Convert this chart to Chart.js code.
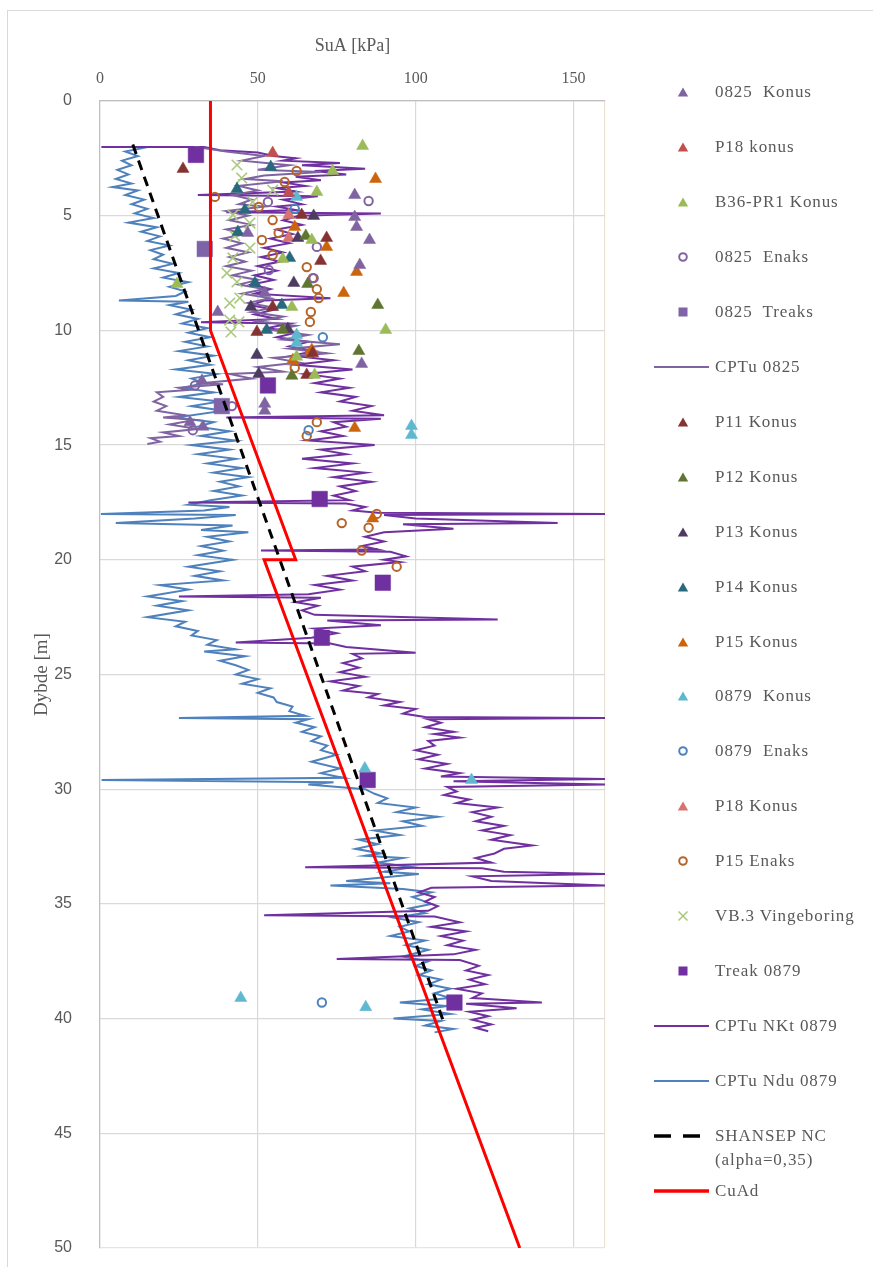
<!DOCTYPE html>
<html><head><meta charset="utf-8">
<script src="https://cdn.jsdelivr.net/npm/chart.js@4.4.0/dist/chart.umd.min.js"></script>
<style>
html,body{margin:0;padding:0;background:#fff;overflow:hidden;width:873px;height:1267px;}
#frame{position:absolute;left:7px;top:10px;width:900px;height:1300px;border:1px solid #d9d9d9;box-sizing:border-box;}
#wrap{position:absolute;left:0;top:0;width:873px;height:1267px;}
#legend{position:absolute;left:0;top:0;width:873px;height:1267px;}
.row{position:absolute;left:652px;display:flex;align-items:flex-start;font-family:'Liberation Serif','Times New Roman',serif;font-size:17px;color:#595959;letter-spacing:0.9px;white-space:pre;line-height:24px;}
.row svg{flex:none;}
.row span{margin-left:3px;}
</style></head><body>
<div id="frame"></div>
<div id="wrap"><canvas id="c" width="873" height="1267"></canvas></div>
<div id="legend"></div>
<script>
// ---- axis ticks ----
const xGridValues = [0, 50, 100, 150, 160];
const xTickLabels = ['0', '50', '100', '150', ''];
const yTickValues = [0, 5, 10, 15, 20, 25, 30, 35, 40, 45, 50];
const yTickLabels = ['0', '5', '10', '15', '20', '25', '30', '35', '40', '45', '50'];

// ---- point series [SuA kPa, depth m] ----
const konus0825 = [[80.7,4.1],[80.7,5.06],[81.3,5.49],[85.4,6.06],[82.3,7.15],[46.8,5.75],[37.3,9.2],[52.2,8.37],[82.9,11.46],[32.3,12.2],[28.5,14.0],[32.6,14.2],[52.2,13.2],[52.2,13.5]];
const p18konusA = [[54.7,2.27],[59.8,4.0]];
const b36Konus = [[83.2,1.96],[73.7,3.05],[68.7,3.97],[67.1,6.06],[57.9,6.89],[24.4,7.98],[60.8,8.98],[90.5,9.98],[62.3,11.15],[68.0,11.94]];
const enaks0825 = [[85.1,4.36],[53.2,4.4],[68.7,6.36],[53.5,7.37],[67.7,7.72],[30.1,12.4],[29.4,14.35],[41.8,13.3]];
const treaks0825 = [[33.2,6.45],[38.6,13.3]];
const p11Konus = [[26.3,2.96],[63.9,4.97],[71.8,5.97],[69.9,6.97],[54.7,8.98],[49.7,10.07],[67.4,11.0],[65.5,11.94]];
const p12Konus = [[65.2,5.88],[65.8,7.98],[88.0,8.89],[57.9,9.98],[82.0,10.9],[60.8,11.98]];
const p13Konus = [[67.7,5.01],[62.7,5.97],[61.4,7.93],[47.8,8.98],[59.5,9.94],[49.7,11.07],[50.3,11.9]];
const p14Konus = [[54.1,2.88],[43.4,3.84],[45.9,4.75],[43.7,5.71],[60.1,6.84],[49.1,7.93],[57.6,8.89],[52.8,9.98]];
const p15Konus = [[87.3,3.4],[61.7,5.49],[71.8,6.36],[81.3,7.45],[77.2,8.37],[67.1,10.85],[61.1,11.3],[80.7,14.25],[86.4,18.2]];
const konus0879 = [[62.3,4.18],[62.3,10.2],[62.3,10.55],[98.7,14.17],[98.7,14.56],[83.9,29.1],[117.7,29.6],[44.6,39.1],[84.2,39.5]];
const enaks0879 = [[61.7,4.7],[70.6,10.3],[66.1,14.35],[70.3,39.3]];
const p18KonusB = [[59.8,4.97],[59.8,5.97]];
const enaksP15 = [[36.4,4.18],[62.3,3.05],[58.5,3.53],[50.3,4.62],[54.7,5.19],[56.6,5.75],[51.3,6.06],[54.7,6.71],[65.5,7.24],[67.4,7.72],[68.7,8.2],[69.3,8.59],[66.8,9.2],[66.5,9.63],[66.5,10.99],[61.7,11.64],[68.7,14.0],[65.5,14.6],[76.6,18.4],[87.7,18.0],[85.1,18.6],[82.9,19.6],[94.0,20.3]];
const vb3 = [[43.4,2.79],[44.9,3.36],[54.7,3.88],[48.4,4.4],[42.1,4.97],[47.5,5.32],[42.7,5.88],[47.5,6.41],[42.1,6.84],[40.2,7.5],[43.4,7.89],[44.3,8.59],[41.1,8.81],[41.1,9.55],[44.0,9.63],[41.5,10.07]];
const treak0879 = [[30.4,2.35],[53.2,12.4],[69.6,17.35],[89.6,21.0],[70.3,23.4],[84.8,29.6],[112.3,39.3]];

// ---- profile series [SuA kPa, depth m] ----
const cptu0825 = [[30,2.0],[40,2.2],[52,2.4],[45,2.6],[60,2.8],[50,3.0],[70,3.1],[52,3.25],[46,3.4],[58,3.5],[44,3.7],[50,3.9],[42,4.1],[48,4.3],[44,4.5],[52,4.6],[40,4.8],[47,5.0],[41,5.2],[48,5.4],[40,5.6],[46,5.8],[39,6.0],[45,6.2],[40,6.4],[47,6.6],[41,6.8],[46,7.0],[40,7.2],[48,7.4],[42,7.6],[50,7.8],[44,8.0],[52,8.2],[45,8.4],[54,8.6],[47,8.8],[55,9.0],[48,9.2],[58,9.4],[50,9.6],[62,9.8],[55,10.0],[66,10.2],[58,10.4],[76,10.6],[60,10.8],[72,11.0],[55,11.2],[63,11.4],[50,11.6],[58,11.8],[41,11.9],[48,12.1],[32,12.3],[39,12.35],[25,12.5],[28,12.6],[18,12.7],[20,12.9],[17,13.1],[21,13.3],[18,13.5],[27,13.7],[20,13.8],[30,13.9],[22,14.1],[31,14.3],[20,14.45],[25,14.6],[16,14.7],[19,14.85],[15,14.95]];
const cptuNkt0879 = [[0.5,2.0],[33,2.0],[38,2.15],[50,2.25],[55,2.4],[62,2.5],[58,2.6],[76,2.7],[64,2.8],[84,2.95],[68,3.05],[78,3.2],[62,3.3],[70,3.45],[58,3.55],[65,3.7],[56,3.8],[62,3.95],[31,4.1],[69,4.15],[58,4.3],[64,4.5],[56,4.6],[62,4.75],[40,4.85],[89,4.9],[63,5.0],[58,5.2],[64,5.4],[56,5.6],[61,5.8],[54,6.0],[60,6.2],[52,6.4],[58,6.6],[51,6.8],[57,7.0],[50,7.2],[56,7.4],[49,7.6],[55,7.8],[48,8.0],[54,8.2],[49,8.4],[73,8.6],[52,8.7],[48,8.9],[55,9.1],[49,9.3],[56,9.5],[32,9.65],[60,9.7],[53,9.9],[62,10.1],[56,10.3],[66,10.5],[60,10.7],[68,10.9],[61,11.1],[74,11.3],[62,11.5],[80,11.7],[65,11.9],[76,12.1],[68,12.3],[79,12.5],[70,12.7],[81,12.9],[76,13.1],[86,13.3],[80,13.5],[90,13.7],[40,13.8],[89,13.85],[74,14.0],[78,14.2],[70,14.4],[77,14.6],[66,14.8],[87,15.0],[70,15.2],[78,15.4],[64,15.6],[80,15.8],[68,16.0],[84,16.2],[74,16.4],[86,16.6],[76,16.8],[81,17.0],[74,17.2],[79,17.4],[28,17.5],[78,17.55],[84,17.7],[80,17.85],[88,17.95],[160,18.0],[90,18.05],[100,18.2],[145,18.4],[96,18.45],[112,18.65],[90,18.8],[84,19.0],[90,19.2],[83,19.4],[88,19.55],[51,19.6],[92,19.65],[97,19.85],[90,20.0],[95,20.1],[80,20.3],[84,20.5],[72,20.7],[80,20.9],[68,21.1],[76,21.3],[66,21.5],[25,21.6],[70,21.65],[62,21.85],[69,22.0],[64,22.2],[68,22.4],[126,22.6],[72,22.65],[89,22.85],[68,23.0],[75,23.2],[67,23.4],[43,23.6],[73,23.65],[78,23.8],[100,24.05],[80,24.1],[83,24.3],[77,24.5],[82,24.7],[76,24.9],[84,25.1],[73,25.3],[82,25.5],[77,25.7],[88,25.85],[85,26.0],[95,26.2],[90,26.35],[100,26.5],[96,26.7],[103,26.85],[160,26.9],[104,26.95],[108,27.1],[103,27.3],[112,27.5],[106,27.6],[114,27.75],[104,27.9],[106,28.1],[100,28.3],[107,28.5],[101,28.7],[110,28.9],[103,29.1],[114,29.3],[108,29.45],[160,29.55],[112,29.65],[160,29.8],[110,29.9],[113,30.1],[109,30.25],[117,30.45],[113,30.6],[126,30.8],[118,31.0],[124,31.2],[119,31.4],[128,31.6],[121,31.8],[130,32.0],[124,32.2],[137,32.45],[128,32.6],[125,32.8],[119,33.0],[124,33.2],[65,33.4],[121,33.45],[128,33.6],[160,33.7],[118,33.8],[124,34.0],[160,34.2],[105,34.3],[101,34.5],[106,34.7],[103,34.9],[107,35.1],[104,35.3],[52,35.5],[106,35.55],[114,35.8],[105,36.0],[116,36.2],[108,36.4],[115,36.6],[110,36.8],[119,37.0],[112,37.2],[75,37.4],[114,37.45],[120,37.7],[116,37.9],[123,38.1],[117,38.3],[122,38.5],[113,38.7],[121,38.9],[118,39.1],[140,39.3],[116,39.35],[132,39.55],[117,39.7],[123,39.9],[118,40.05],[124,40.25],[119,40.4],[123,40.55]];
const cptuNdu0879 = [[0.5,2.0],[15.5,2.0],[8,2.2],[12,2.4],[7,2.6],[10,2.8],[5.5,3.0],[9,3.2],[5,3.4],[10,3.6],[4,3.75],[12,3.9],[8,4.1],[14,4.3],[10,4.5],[15,4.7],[11,4.9],[17,5.1],[9,5.3],[18,5.5],[13,5.7],[19,5.9],[15,6.1],[22,6.3],[16,6.5],[20,6.7],[17,6.9],[23,7.1],[17,7.3],[25,7.5],[20,7.7],[28,7.9],[22,8.1],[27,8.3],[24,8.5],[6,8.7],[28,8.75],[22,8.9],[29,9.1],[24,9.3],[31,9.5],[26,9.7],[34,9.9],[28,10.1],[35,10.3],[27,10.5],[34,10.7],[25,10.9],[36,11.1],[28,11.3],[35,11.5],[24,11.7],[37,11.9],[29,12.1],[33,12.3],[26,12.5],[36,12.7],[25,12.9],[38,13.1],[29,13.3],[39,13.5],[24,13.8],[36,14.0],[31,14.2],[41,14.4],[32,14.6],[43,14.8],[29,15.0],[41,15.2],[31,15.4],[43,15.6],[34,15.8],[45,16.0],[36,16.2],[47,16.4],[38,16.6],[44,16.8],[36,17.0],[45,17.2],[35,17.4],[28,17.6],[41,17.7],[33,17.85],[0.3,18.0],[43,18.05],[30,18.2],[5,18.4],[42,18.5],[32,18.7],[47,18.8],[34,19.0],[41,19.2],[32,19.4],[39,19.6],[31,19.8],[42,20.0],[28,20.3],[38,20.5],[30,20.7],[39,20.9],[19,21.1],[28,21.3],[15,21.6],[26,21.8],[18,22.0],[28,22.2],[15,22.5],[27,22.7],[24,22.9],[31,23.1],[29,23.3],[37,23.5],[34,23.7],[43,23.9],[33,24.0],[46,24.2],[38,24.4],[43,24.6],[47,24.8],[43,25.0],[50,25.2],[45,25.4],[54,25.6],[50,25.8],[55,26.0],[56,26.2],[61,26.4],[60,26.6],[65,26.8],[25,26.9],[66,26.95],[62,27.1],[68,27.3],[64,27.5],[70,27.7],[67,27.9],[72,28.1],[70,28.3],[75,28.5],[67,28.8],[76,29.1],[70,29.3],[77,29.5],[0.5,29.6],[74,29.7],[66,29.8],[84,30.0],[87,30.2],[91,30.4],[88,30.6],[100,30.8],[94,31.0],[107,31.2],[96,31.4],[102,31.6],[87,31.8],[95,32.0],[82,32.2],[88,32.4],[81,32.6],[89,32.8],[84,32.9],[96,33.0],[88,33.2],[99,33.4],[90,33.6],[101,33.7],[78,34.0],[92,34.1],[73,34.2],[96,34.35],[105,34.5],[99,34.7],[105,35.0],[98,35.2],[103,35.4],[93,35.6],[101,35.8],[95,36.0],[98,36.2],[92,36.4],[103,36.6],[97,36.8],[104,37.0],[96,37.3],[104,37.5],[100,37.7],[105,37.9],[101,38.1],[108,38.3],[104,38.5],[111,38.7],[106,38.9],[111,39.1],[95,39.3],[110,39.45],[102,39.6],[111,39.8],[93,40.0],[108,40.1],[103,40.3],[112,40.45],[106,40.6]];
const shansepNC = [[10.4,1.9],[109,40.2]];
const cuAd = [[35,0],[35,10],[62,20],[52,20],[133,50]];

// ---- series definitions (legend order) ----
const series = [
  {label:'0825  Konus', data:konus0825, kind:'tri', color:'#8064A2'},
  {label:'P18 konus', data:p18konusA, kind:'tri', color:'#C0504D'},
  {label:'B36-PR1 Konus', data:b36Konus, kind:'tri', color:'#9BBB59'},
  {label:'0825  Enaks', data:enaks0825, kind:'circ', color:'#8064A2'},
  {label:'0825  Treaks', data:treaks0825, kind:'sq', color:'#7F63A8'},
  {label:'CPTu 0825', data:cptu0825, kind:'line', color:'#8064A2', width:2},
  {label:'P11 Konus', data:p11Konus, kind:'tri', color:'#843331'},
  {label:'P12 Konus', data:p12Konus, kind:'tri', color:'#5F7530'},
  {label:'P13 Konus', data:p13Konus, kind:'tri', color:'#4D3B62'},
  {label:'P14 Konus', data:p14Konus, kind:'tri', color:'#276A7C'},
  {label:'P15 Konus', data:p15Konus, kind:'tri', color:'#CC640E'},
  {label:'0879  Konus', data:konus0879, kind:'tri', color:'#5EB8D0'},
  {label:'0879  Enaks', data:enaks0879, kind:'circ', color:'#4F81BD'},
  {label:'P18 Konus', data:p18KonusB, kind:'tri', color:'#D9736F'},
  {label:'P15 Enaks', data:enaksP15, kind:'circ', color:'#B5652A'},
  {label:'VB.3 Vingeboring', data:vb3, kind:'x', color:'#A9C97C'},
  {label:'Treak 0879', data:treak0879, kind:'sq', color:'#7030A0'},
  {label:'CPTu NKt 0879', data:cptuNkt0879, kind:'line', color:'#7030A0', width:2},
  {label:'CPTu Ndu 0879', data:cptuNdu0879, kind:'line', color:'#4F81BD', width:2},
  {label:['SHANSEP NC','(alpha=0,35)'], data:shansepNC, kind:'line', color:'#000000', width:3, dash:[10,7], top:true},
  {label:'CuAd', data:cuAd, kind:'line', color:'#FF0000', width:3, top:true}
];

function toXY(arr){ return arr.map(p => ({x:p[0], y:p[1]})); }

const datasets = series.map((s, i) => {
  const ds = {label: Array.isArray(s.label) ? s.label.join(' ') : s.label, data: toXY(s.data)};
  if (s.kind === 'line') {
    Object.assign(ds, {showLine:true, pointRadius:0, pointHoverRadius:0, borderColor:s.color, backgroundColor:s.color,
      borderWidth:s.width, borderDash:s.dash || [], fill:false, tension:0, order: s.top ? (s.label==='CuAd'?0:1) : 3});
  } else if (s.kind === 'tri') {
    Object.assign(ds, {showLine:false, pointStyle:'triangle', pointRadius:7, backgroundColor:s.color, borderColor:s.color, borderWidth:0.5, order:2});
  } else if (s.kind === 'circ') {
    Object.assign(ds, {showLine:false, pointStyle:'circle', pointRadius:4.2, backgroundColor:'rgba(255,255,255,0)', borderColor:s.color, borderWidth:2, order:2});
  } else if (s.kind === 'sq') {
    Object.assign(ds, {showLine:false, pointStyle:'rect', pointRadius:11, backgroundColor:s.color, borderColor:s.color, borderWidth:0.5, order:2});
  } else if (s.kind === 'x') {
    Object.assign(ds, {showLine:false, pointStyle:'crossRot', pointRadius:7.5, backgroundColor:s.color, borderColor:s.color, borderWidth:1.6, order:2});
  }
  return ds;
});

new Chart(document.getElementById('c'), {
  type: 'scatter',
  data: {datasets},
  options: {
    responsive:false, animation:false, devicePixelRatio:1,
    events: [],
    layout:{padding:{left:0, top:0, right:268, bottom:19}},
    plugins:{legend:{display:false}, tooltip:{enabled:false}},
    scales:{
      x:{type:'linear', position:'top', min:0, max:160,
        afterBuildTicks: s => { s.ticks = xGridValues.map(v => ({value:v})); },
        afterFit: s => { s.height = 101; s.paddingLeft = 0; s.paddingRight = 0; },
        ticks:{autoSkip:false, maxRotation:0, minRotation:0, padding:13, color:'#595959',
          font:{family:"'Liberation Serif', serif", size:16},
          callback:(v, i) => xTickLabels[i] ?? ''},
        grid:{color: c => (c.tick && c.tick.value === 160) ? '#e9e3d6' : '#d9d9d9', lineWidth:1.2, drawTicks:false},
        border:{display:true, color:'#bfbfbf', width:1.2},
        title:{display:true, text:'SuA [kPa]', color:'#595959', font:{family:"'Liberation Serif', serif", size:18}, padding:{top:35, bottom:0}}
      },
      y:{type:'linear', reverse:true, min:0, max:50,
        afterBuildTicks: s => { s.ticks = yTickValues.map(v => ({value:v})); },
        afterFit: s => { s.width = 100; s.paddingTop = 0; s.paddingBottom = 0; },
        ticks:{autoSkip:false, padding:28, color:'#595959', font:{family:"'Liberation Sans', sans-serif", size:16},
          callback:(v, i) => yTickLabels[i] ?? ''},
        grid:{color: c => (c.tick && c.tick.value === 50) ? '#ebe5d7' : '#d9d9d9', lineWidth:1.2, drawTicks:false},
        border:{display:true, color:'#bfbfbf', width:1.2},
        title:{display:true, text:'Dybde [m]', color:'#595959', font:{family:"'Liberation Serif', serif", size:19}, padding:{top:31, bottom:0}}
      }
    }
  }
});

// ---- HTML legend ----
const legendTop = 92, legendStep = 54.95;
const leg = document.getElementById('legend');
const NS = 'http://www.w3.org/2000/svg';
series.forEach((s, i) => {
  const yc = legendTop + i * legendStep;
  const row = document.createElement('div');
  row.className = 'row';
  row.style.top = (yc - 12) + 'px';
  const svg = document.createElementNS(NS, 'svg');
  svg.setAttribute('width', '60'); svg.setAttribute('height', '24');
  let el;
  if (s.kind === 'tri') {
    el = document.createElementNS(NS, 'polygon');
    el.setAttribute('points', '31,7.5 36.2,16.5 25.8,16.5'); el.setAttribute('fill', s.color);
  } else if (s.kind === 'circ') {
    el = document.createElementNS(NS, 'circle');
    el.setAttribute('cx', '31'); el.setAttribute('cy', '12'); el.setAttribute('r', '3.8');
    el.setAttribute('fill', 'none'); el.setAttribute('stroke', s.color); el.setAttribute('stroke-width', '2');
  } else if (s.kind === 'sq') {
    el = document.createElementNS(NS, 'rect');
    el.setAttribute('x', '26.5'); el.setAttribute('y', '7.5'); el.setAttribute('width', '9'); el.setAttribute('height', '9');
    el.setAttribute('fill', s.color);
  } else if (s.kind === 'x') {
    el = document.createElementNS(NS, 'path');
    el.setAttribute('d', 'M26.5 7.5 L35.5 16.5 M35.5 7.5 L26.5 16.5');
    el.setAttribute('stroke', s.color); el.setAttribute('stroke-width', '1.5'); el.setAttribute('fill', 'none');
  } else {
    el = document.createElementNS(NS, 'line');
    el.setAttribute('x1', '2'); el.setAttribute('x2', '57'); el.setAttribute('y1', '12'); el.setAttribute('y2', '12');
    el.setAttribute('stroke', s.color); el.setAttribute('stroke-width', String(s.width + (s.width > 2 ? 0.5 : 0)));
    if (s.dash) el.setAttribute('stroke-dasharray', '17 12');
  }
  svg.appendChild(el);
  row.appendChild(svg);
  const span = document.createElement('span');
  if (Array.isArray(s.label)) {
    s.label.forEach((t, k) => { if (k) span.appendChild(document.createElement('br')); span.appendChild(document.createTextNode(t)); });
  } else span.textContent = s.label;
  row.appendChild(span);
  leg.appendChild(row);
});
</script></body></html>
